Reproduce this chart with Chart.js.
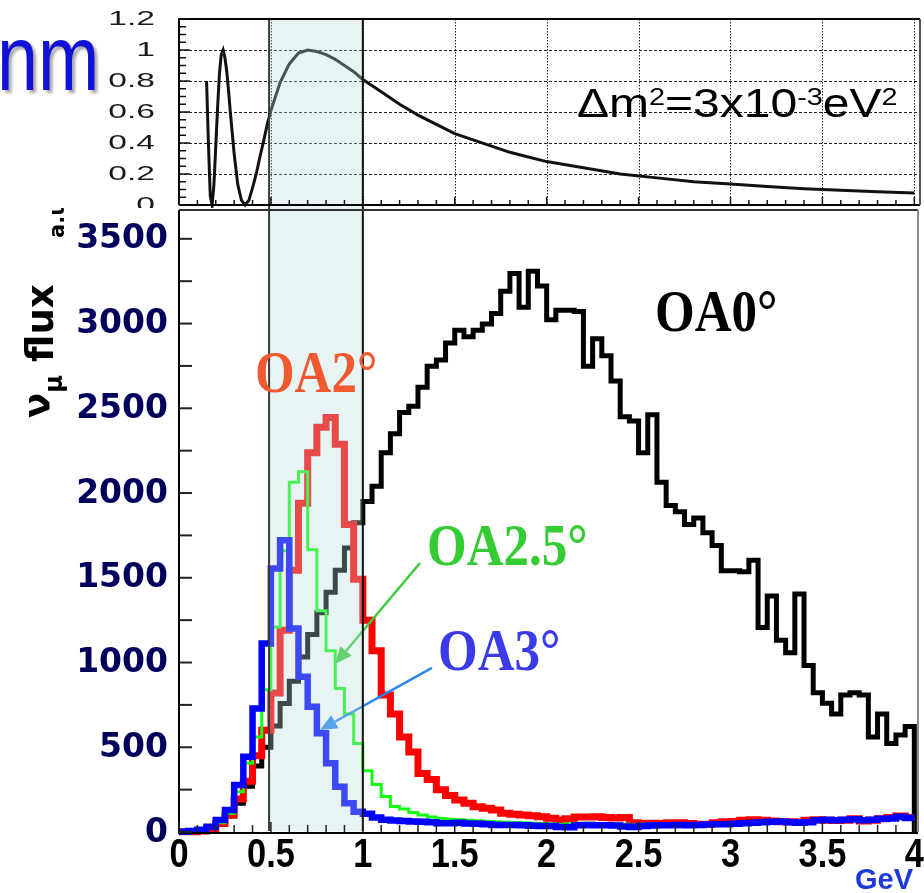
<!DOCTYPE html>
<html><head><meta charset="utf-8">
<script src="https://cdn.jsdelivr.net/npm/chart.js@4.4.1/dist/chart.umd.min.js"></script>
<style>
html,body{margin:0;padding:0;background:#fff;}
#wrap{position:relative;width:924px;height:893px;overflow:hidden;background:#fff;}
#topc{position:absolute;left:0;top:0;}
#mainc{position:absolute;left:0;top:208px;}
</style></head><body>
<div id="wrap"><canvas id="topc" width="924" height="208"></canvas><canvas id="mainc" width="924" height="685"></canvas></div>
<script>
// ---------- data ----------
const binEdges = [0,0.05,0.1,0.15,0.2,0.25,0.3,0.35,0.4,0.45,0.5,0.55,0.6,0.65,0.7,0.75,0.8,0.85,0.9,0.95,
  1,1.05,1.1,1.15,1.2,1.25,1.3,1.35,1.4,1.45,1.5,1.55,1.6,1.65,1.7,1.75,1.8,1.85,1.9,1.95,
  2,2.05,2.1,2.15,2.2,2.25,2.3,2.35,2.4,2.45,2.5,2.55,2.6,2.65,2.7,2.75,2.8,2.85,2.9,2.95,
  3,3.05,3.1,3.15,3.2,3.25,3.3,3.35,3.4,3.45,3.5,3.55,3.6,3.65,3.7,3.75,3.8,3.85,3.9,3.95,4];
const seriesNames = ['OA0°','OA2°','OA2.5°','OA3°'];
const fluxOA0 = [2,3,10,30,55,95,170,270,390,500,
  625,758,890,1032,1165,1293,1415,1545,1675,1825,
  1950,2040,2238,2350,2475,2512,2624,2748,2785,2885,
  2960,2922,2960,2997,3059,3190,3295,3096,3308,3221,
  3022,3079,3079,3071,2748,2910,2810,2661,2450,2425,
  2238,2462,2064,1927,1890,1815,1853,1766,1691,1542,
  1542,1535,1604,1206,1393,1132,1057,1405,982,821,
  759,696,808,821,808,560,696,522,572,622];
const fluxOA2 = [1,2,6,20,50,100,195,300,450,600,
  820,1190,1545,1940,2238,2388,2445,2288,1815,1492,
  1250,1069,808,696,560,472,345,310,250,215,
  189,169,149,140,130,110,104,100,96,90,
  81,71,78,88,88,90,85,82,85,55,
  50,52,50,55,55,50,45,45,55,60,
  62,70,72,70,65,60,60,58,70,72,
  70,68,70,78,65,70,78,85,95,85];
const fluxOA25 = [1,2,8,25,55,110,238,405,560,840,
  1210,1660,2064,2126,1666,1306,1069,846,696,522,
  361,280,210,150,135,115,100,88,80,75,
  72,70,66,62,60,58,56,55,52,50,
  48,45,48,52,52,50,48,45,45,42,
  45,48,50,48,46,45,45,48,50,55,
  58,60,60,62,58,55,55,58,62,65,
  62,62,65,68,70,66,70,72,78,75];
const fluxOA3 = [2,6,14,31,71,130,277,444,729,1112,
  1554,1721,1200,916,739,582,405,267,169,120,
  108,85,72,68,65,62,60,58,52,52,
  55,50,48,45,42,42,41,40,37,36,
  35,30,28,40,42,40,40,38,32,30,
  35,38,40,40,42,40,42,44,45,45,
  48,52,55,58,60,62,58,55,58,70,
  72,70,72,75,70,72,78,80,90,82];
const probE = [0.15,0.16,0.17,0.18,0.19,0.20,0.21,0.22,0.23,0.24,0.25,0.26,0.27,0.28,0.29,0.30,0.32,0.34,0.36,0.38,
  0.40,0.42,0.44,0.46,0.48,0.50,0.55,0.60,0.65,0.70,0.75,0.80,0.85,0.90,0.95,1.00,1.1,1.2,1.3,1.4,
  1.5,1.6,1.7,1.8,1.9,2.0,2.2,2.4,2.6,2.8,3.0,3.2,3.4,3.6,3.8,4.0];
const probP = [0.80,0.40,0.06,0.00,0.13,0.38,0.63,0.85,0.97,1.00,0.95,0.86,0.73,0.59,0.46,0.33,0.13,0.03,0.00,0.03,
  0.11,0.20,0.31,0.41,0.52,0.61,0.79,0.91,0.98,1.00,0.99,0.97,0.94,0.90,0.86,0.81,0.73,0.65,0.58,0.52,
  0.46,0.42,0.38,0.34,0.31,0.28,0.24,0.20,0.175,0.15,0.135,0.12,0.105,0.095,0.085,0.077];
const fluxTicks = [0,500,1000,1500,2000,2500,3000,3500];
const fluxTickLabels = ['0','500','1000','1500','2000','2500','3000','3500'];
const energyTicks = [0,0.5,1,1.5,2,2.5,3,3.5,4];
const energyTickLabels = ['0','0.5','1','1.5','2','2.5','3','3.5','4'];
const probTicks = [0,0.2,0.4,0.6,0.8,1.0,1.2];
const probTickLabels = ['0','0.2','0.4','0.6','0.8','1','1.2'];
const bandRange = [0.49, 1.0];
const oscLabel = {m:'Δm', s1:'2', mid:'=3x10', s2:'-3', unit:'eV', s3:'2'};

// ---------- placement of annotations (data coordinates) ----------
const ANN = {
  labels: [
    {i:0, x:2.59, y:2956, color:'#000000'},
    {i:1, x:0.413, y:2596, color:'#f05a30'},
    {i:2, x:1.349, y:1575, color:'#33cc33'},
    {i:3, x:1.409, y:956, color:'#3a3ae8'}
  ],
  arrows: [
    {from:[1.311,1587], to:[0.849,991], color:'#3ccc3c'},
    {from:[1.376,968], to:[0.767,602], color:'#2a86ee'}
  ],
  osc: {x:2.165, y:0.568}
};

function hist(vals, endVal) {
  const pts = vals.map((v, i) => ({x: binEdges[i], y: v}));
  pts.push({x: binEdges[binEdges.length - 1], y: endVal === undefined ? vals[vals.length - 1] : endVal});
  return pts;
}

function drawBand(chart, yTop, yBot) {
  const ctx = chart.ctx, xs = chart.scales.x;
  const x0 = xs.getPixelForValue(bandRange[0]), x1 = xs.getPixelForValue(bandRange[1]);
  ctx.save();
  ctx.fillStyle = 'rgba(184,221,221,0.33)';
  ctx.fillRect(x0, yTop, x1 - x0, yBot - yTop);
  ctx.lineWidth = 2;
  ctx.strokeStyle = '#3a3a3a';
  ctx.beginPath(); ctx.moveTo(x0, yTop); ctx.lineTo(x0, yBot); ctx.stroke();
  ctx.strokeStyle = '#111';
  ctx.beginPath(); ctx.moveTo(x1, yTop); ctx.lineTo(x1, yBot); ctx.stroke();
  ctx.restore();
}

function arrow(ctx, x0, y0, x1, y1, color) {
  const a = Math.atan2(y1 - y0, x1 - x0), L = 17, W = 7.5;
  const bx = x1 - L * Math.cos(a), by = y1 - L * Math.sin(a);
  ctx.save();
  ctx.strokeStyle = color; ctx.fillStyle = color; ctx.lineWidth = 2.5;
  ctx.beginPath(); ctx.moveTo(x0, y0); ctx.lineTo(bx, by); ctx.stroke();
  ctx.beginPath(); ctx.moveTo(x1, y1);
  ctx.lineTo(bx + W * Math.sin(a), by - W * Math.cos(a));
  ctx.lineTo(bx - W * Math.sin(a), by + W * Math.cos(a));
  ctx.closePath(); ctx.fill();
  ctx.restore();
}

// ---------- main chart decorations ----------
const mainDeco = {
  id: 'mainDeco',
  afterDatasetsDraw(chart) {
    const ctx = chart.ctx, ca = chart.chartArea, xs = chart.scales.x, ys = chart.scales.y;
    ANN.arrows.forEach(a => arrow(ctx, xs.getPixelForValue(a.from[0]), ys.getPixelForValue(a.from[1]),
      xs.getPixelForValue(a.to[0]), ys.getPixelForValue(a.to[1]), a.color));
    drawBand(chart, 0, ca.bottom - 1);
    ctx.save();
    ctx.lineWidth = 2;
    ctx.strokeStyle = '#333';
    ctx.beginPath(); ctx.moveTo(ca.left, ca.top); ctx.lineTo(ca.right, ca.top); ctx.stroke();
    ctx.strokeStyle = '#8a8a8a';
    ctx.beginPath(); ctx.moveTo(ca.right, ca.top); ctx.lineTo(ca.right, ca.bottom); ctx.stroke();
    ctx.strokeStyle = '#000';
    ctx.beginPath(); ctx.moveTo(ca.left, ca.top); ctx.lineTo(ca.left, ca.bottom + 1); ctx.lineTo(ca.right, ca.bottom + 1); ctx.stroke();
    ctx.lineWidth = 2; ctx.strokeStyle = '#222';
    for (let v = 0; v <= 3500; v += 250) {
      const y = ys.getPixelForValue(v);
      ctx.beginPath(); ctx.moveTo(ca.left, y); ctx.lineTo(ca.left + 13, y); ctx.stroke();
    }
    ctx.lineWidth = 1.5;
    for (let i = 0; i <= 40; i++) {
      const x = xs.getPixelForValue(i / 10);
      ctx.beginPath(); ctx.moveTo(x, ca.bottom); ctx.lineTo(x, ca.bottom - (i % 5 === 0 ? 10 : 7)); ctx.stroke();
    }
    ctx.restore();
  },
  afterDraw(chart) {
    const ctx = chart.ctx, ca = chart.chartArea, xs = chart.scales.x, ys = chart.scales.y;
    // axis tick labels
    ctx.save();
    ctx.fillStyle = '#00005c'; ctx.font = 'bold 33px "DejaVu Sans", sans-serif';
    ctx.textAlign = 'right'; ctx.textBaseline = 'middle';
    fluxTicks.forEach((v, i) => ctx.fillText(fluxTickLabels[i], ca.left - 11, ys.getPixelForValue(v) + 1));
    ctx.fillStyle = '#000'; ctx.font = 'bold 40px "Liberation Sans", Arial, sans-serif';
    ctx.textAlign = 'center'; ctx.textBaseline = 'middle';
    energyTicks.forEach((v, i) => {
      ctx.save();
      ctx.translate(xs.getPixelForValue(v), ca.bottom + 24);
      ctx.scale(0.86, 1);
      ctx.fillText(energyTickLabels[i], 0, 0);
      ctx.restore();
    });
    ctx.restore();
    // curve labels
    ANN.labels.forEach(l => {
      ctx.save();
      ctx.translate(xs.getPixelForValue(l.x), ys.getPixelForValue(l.y));
      ctx.scale(1, 1.15);
      ctx.font = 'bold 51px "Liberation Serif", "Times New Roman", serif';
      ctx.fillStyle = l.color; ctx.textAlign = 'left'; ctx.textBaseline = 'alphabetic';
      ctx.fillText(seriesNames[l.i], 0, 0);
      ctx.restore();
    });
    // y axis title
    ctx.save();
    ctx.translate(ca.left - 129, 210);
    ctx.rotate(-Math.PI / 2);
    ctx.fillStyle = '#000'; ctx.textBaseline = 'alphabetic'; ctx.textAlign = 'left';
    ctx.font = 'bold 37px "DejaVu Sans"';
    ctx.fillText('ν', 0, 0);
    const nw = ctx.measureText('ν').width;
    ctx.font = 'bold 24px "DejaVu Sans"';
    ctx.fillText('μ', nw, 12);
    ctx.font = 'bold 37px "DejaVu Sans"';
    ctx.fillText('flux', 56, 3);
    ctx.font = 'bold 21px "DejaVu Sans"';
    ctx.fillText('a.u.', 180, 14);
    ctx.restore();
    // unit
    ctx.save();
    ctx.font = 'bold 29px "Liberation Sans", Arial, sans-serif';
    ctx.fillStyle = '#1c3ad6'; ctx.textAlign = 'right'; ctx.textBaseline = 'alphabetic';
    ctx.fillText('GeV', ca.right - 5, chart.height - 4);
    ctx.restore();
  }
};

// ---------- top chart decorations ----------
const topDeco = {
  id: 'topDeco',
  beforeDatasetsDraw(chart) {
    const ctx = chart.ctx, ca = chart.chartArea, xs = chart.scales.x, ys = chart.scales.y;
    ctx.save();
    ctx.strokeStyle = '#222'; ctx.lineWidth = 1;
    ctx.setLineDash([3, 2]);
    probTicks.forEach(v => {
      if (v <= 0 || v >= 1.2) return;
      const y = Math.round(ys.getPixelForValue(v)) + 0.5;
      ctx.beginPath(); ctx.moveTo(ca.left, y); ctx.lineTo(ca.right, y); ctx.stroke();
    });
    ctx.setLineDash([1.5, 1.5]);
    for (let i = 1; i <= 8; i++) {
      const x = Math.round(xs.getPixelForValue(i * 0.5)) + 0.5;
      ctx.beginPath(); ctx.moveTo(x, ca.top); ctx.lineTo(x, ca.bottom); ctx.stroke();
    }
    ctx.restore();
  },
  afterDatasetsDraw(chart) {
    const ctx = chart.ctx, ca = chart.chartArea, xs = chart.scales.x, ys = chart.scales.y;
    drawBand(chart, ca.top, chart.height);
    ctx.save();
    ctx.lineWidth = 2; ctx.strokeStyle = '#000';
    ctx.beginPath();
    ctx.moveTo(ca.left, ca.bottom); ctx.lineTo(ca.left, ca.top); ctx.lineTo(ca.right + 2, ca.top);
    ctx.moveTo(ca.left, ca.bottom); ctx.lineTo(ca.right + 2, ca.bottom);
    ctx.stroke();
    ctx.strokeStyle = '#555';
    ctx.beginPath(); ctx.moveTo(ca.right + 2, ca.top); ctx.lineTo(ca.right + 2, ca.bottom); ctx.stroke();
    ctx.strokeStyle = '#111'; ctx.lineWidth = 1.5;
    for (let i = 0; i <= 24; i++) {
      const y = ys.getPixelForValue(i * 0.05);
      ctx.beginPath(); ctx.moveTo(ca.left, y); ctx.lineTo(ca.left + (i % 4 === 0 ? 11 : 7), y); ctx.stroke();
    }
    for (let i = 0; i <= 40; i++) {
      const x = xs.getPixelForValue(i / 10);
      ctx.beginPath(); ctx.moveTo(x, ca.bottom); ctx.lineTo(x, ca.bottom - (i % 5 === 0 ? 8 : 5)); ctx.stroke();
    }
    ctx.fillStyle = '#1a1a1a'; ctx.font = '21px "Liberation Sans", Arial, sans-serif';
    ctx.textAlign = 'right'; ctx.textBaseline = 'middle';
    probTicks.forEach((v, i) => {
      ctx.save();
      ctx.translate(ca.left - 24, ys.getPixelForValue(v));
      ctx.scale(1.6, 1);
      ctx.fillText(probTickLabels[i], 0, 0);
      ctx.restore();
    });
    ctx.save();
    ctx.translate(xs.getPixelForValue(ANN.osc.x), ys.getPixelForValue(ANN.osc.y));
    ctx.scale(1.2, 1);
    ctx.fillStyle = '#000'; ctx.textAlign = 'left'; ctx.textBaseline = 'alphabetic';
    const big = '40px "Liberation Sans", Arial, sans-serif', small = '24px "Liberation Sans", Arial, sans-serif';
    let x = 0;
    [[oscLabel.m, big, 0], [oscLabel.s1, small, -12], [oscLabel.mid, big, 0], [oscLabel.s2, small, -12],
     [oscLabel.unit, big, 0], [oscLabel.s3, small, -12]].forEach(([t, f, dy]) => {
      ctx.font = f; ctx.fillText(t, x, dy); x += ctx.measureText(t).width;
    });
    ctx.restore();
    ctx.save();
    ctx.shadowColor = 'rgba(0,0,0,0.35)'; ctx.shadowOffsetX = 3; ctx.shadowOffsetY = 3; ctx.shadowBlur = 3;
    ctx.translate(-3, 90); ctx.scale(0.8, 1);
    ctx.font = '92px "Liberation Sans", Arial, sans-serif';
    ctx.fillStyle = '#1212d6'; ctx.textAlign = 'left'; ctx.textBaseline = 'alphabetic';
    ctx.fillText('nm', 0, 0);
    ctx.restore();
    ctx.restore();
  }
};

const common = {
  responsive: false, animation: false, events: [],
  plugins: { legend: { display: false }, tooltip: { enabled: false } }
};

new Chart(document.getElementById('topc'), {
  type: 'line',
  data: { datasets: [{ data: probE.map((e, i) => ({ x: e, y: probP[i] })), borderColor: '#111', borderWidth: 3,
    pointRadius: 0, tension: 0, fill: false, clip: false }] },
  options: Object.assign({}, common, {
    layout: { padding: { left: 179, right: 6, top: 19, bottom: 3 } },
    scales: { x: { type: 'linear', min: 0, max: 4.02, display: false }, y: { min: 0, max: 1.2, display: false } }
  }),
  plugins: [topDeco]
});

const ds = (label, vals, endVal, color, w, order) => ({
  label, data: hist(vals, endVal), borderColor: color, borderWidth: w, stepped: 'before',
  pointRadius: 0, fill: false, order, clip: false, borderJoinStyle: 'miter', borderCapStyle: 'butt'
});

new Chart(document.getElementById('mainc'), {
  type: 'line',
  data: { datasets: [
    ds(seriesNames[0], fluxOA0, 0, '#000000', 5, 4),
    ds(seriesNames[1], fluxOA2, undefined, '#ff0000', 7, 3),
    ds(seriesNames[2], fluxOA25, undefined, '#11ff11', 3, 2),
    ds(seriesNames[3], fluxOA3, undefined, '#0000ff', 6.5, 1)
  ] },
  options: Object.assign({}, common, {
    layout: { padding: { left: 179, right: 6, top: 2, bottom: 61 } },
    scales: {
      x: { type: 'linear', min: 0, max: 4.02, display: false },
      y: { min: 0, max: 3670, display: false }
    }
  }),
  plugins: [mainDeco]
});
</script>
</body></html>
